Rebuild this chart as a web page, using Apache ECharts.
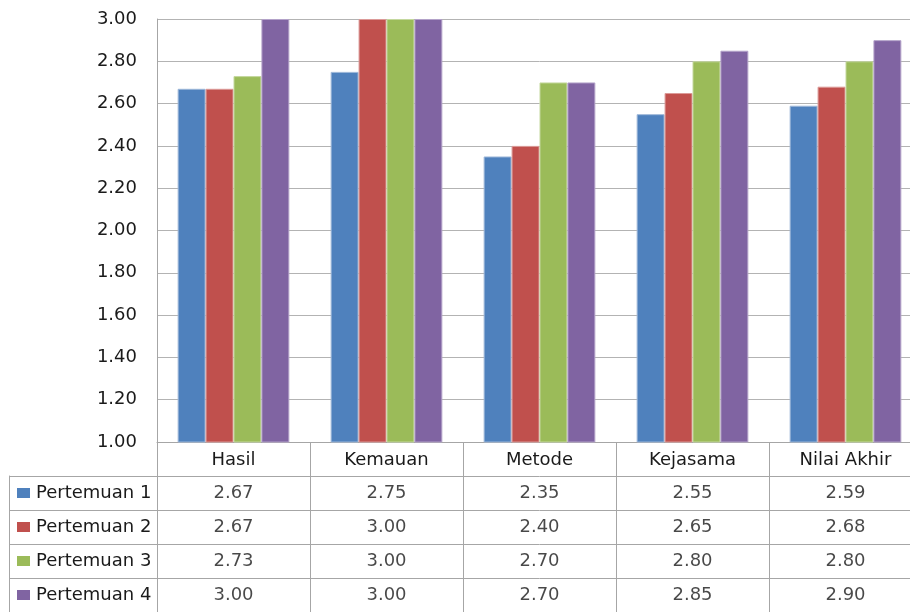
<!DOCTYPE html>
<html>
<head>
<meta charset="utf-8">
<script src="https://cdn.jsdelivr.net/npm/echarts@6/dist/echarts.min.js"></script>
<style>
  html, body { margin: 0; padding: 0; background: #ffffff; overflow: hidden; }
  /* the plot and table continue past the right edge of the window */
  #chart { width: 930px; height: 612px; }
</style>
</head>
<body>
<div id="chart"></div>
<script>
// Categories and the four meeting scores
const categories = ['Hasil', 'Kemauan', 'Metode', 'Kejasama', 'Nilai Akhir'];
const seriesNames = ['Pertemuan 1', 'Pertemuan 2', 'Pertemuan 3', 'Pertemuan 4'];
const pertemuan1 = [2.67, 2.75, 2.35, 2.55, 2.59];
const pertemuan2 = [2.67, 3.00, 2.40, 2.65, 2.68];
const pertemuan3 = [2.73, 3.00, 2.70, 2.80, 2.80];
const pertemuan4 = [3.00, 3.00, 2.70, 2.85, 2.90];
const yMin = 1.0;
const yMax = 3.0;
const yStep = 0.2;

const seriesValues = [pertemuan1, pertemuan2, pertemuan3, pertemuan4];
const colors = ['#4F81BD', '#C0504D', '#9BBB59', '#8064A2'];
const edgeColors = ['#9db7d9', '#dc9a98', '#c4d89e', '#b3a2c9'];
const FONT = 'DejaVu Sans';
const TEXT = '#1a1a1a';
const GRID_LINE = '#b3b3b3';
const TABLE_LINE = '#a6a6a6';

// Table cell texts, positioned by the table's category axes
const cellData = [];
seriesValues.forEach((vals, s) => {
  vals.forEach((v, c) => cellData.push([c, s + 1, v]));
});

const legendRich = { t: { fontFamily: FONT, fontSize: 18, color: TEXT, padding: [0, 0, 0, 6] } };
colors.forEach((col, i) => {
  legendRich['m' + i] = { width: 13, height: 10, backgroundColor: col };
});

const chart = echarts.init(document.getElementById('chart'));
chart.setOption({
  animation: false,
  backgroundColor: '#ffffff',
  grid: [
    { left: 157, top: 19, width: 765, height: 423 },   // bar plot
    { left: 157, top: 442, width: 765, height: 171 },  // data table
    { left: 9, top: 476, width: 148, height: 137 }     // legend column
  ],
  xAxis: [
    {
      gridIndex: 0, type: 'category', data: categories,
      axisLine: { show: true, lineStyle: { color: TABLE_LINE, width: 1 } },
      axisTick: { show: false },
      axisLabel: { fontFamily: FONT, fontSize: 18, color: TEXT, margin: 9 },
      splitLine: { show: false }
    },
    {
      gridIndex: 1, type: 'category', data: categories,
      axisLine: { show: false }, axisTick: { show: false }, axisLabel: { show: false },
      splitLine: { show: true, lineStyle: { color: TABLE_LINE, width: 1 } }
    },
    {
      gridIndex: 2, type: 'category', data: [''],
      axisLine: { show: false }, axisTick: { show: false }, axisLabel: { show: false },
      splitLine: { show: false }
    }
  ],
  yAxis: [
    {
      gridIndex: 0, type: 'value', min: yMin, max: yMax, interval: yStep,
      axisLine: { show: true, lineStyle: { color: TABLE_LINE, width: 1 } },
      axisTick: { show: false },
      axisLabel: {
        fontFamily: FONT, fontSize: 18, color: TEXT, margin: 20,
        formatter: v => v.toFixed(2)
      },
      splitLine: { show: true, lineStyle: { color: GRID_LINE, width: 1 } }
    },
    {
      gridIndex: 1, type: 'category', inverse: true, data: [''].concat(seriesNames),
      axisLine: { show: true, lineStyle: { color: TABLE_LINE, width: 1 } },
      axisTick: { show: false }, axisLabel: { show: false },
      splitLine: { show: true, lineStyle: { color: TABLE_LINE, width: 1 } }
    },
    {
      gridIndex: 2, type: 'category', inverse: true, data: seriesNames,
      axisLine: { show: true, lineStyle: { color: TABLE_LINE, width: 1 } },
      axisTick: { show: false },
      axisLabel: {
        align: 'left', margin: -8,
        formatter: (v, i) => '{m' + i + '|}{t|' + v + '}',
        rich: legendRich
      },
      splitLine: { show: true, lineStyle: { color: TABLE_LINE, width: 1 } }
    }
  ],
  series: seriesNames.map((name, i) => ({
    name: name,
    type: 'bar',
    xAxisIndex: 0,
    yAxisIndex: 0,
    data: seriesValues[i],
    barGap: '0%',
    barCategoryGap: '27%',
    itemStyle: { color: colors[i], borderColor: edgeColors[i], borderWidth: 1 }
  })).concat([{
    name: 'tabel',
    type: 'scatter',
    xAxisIndex: 1,
    yAxisIndex: 1,
    data: cellData,
    symbolSize: 1,
    itemStyle: { color: 'rgba(0,0,0,0)' },
    silent: true,
    label: {
      show: true, position: 'inside',
      fontFamily: FONT, fontSize: 18, color: TEXT,
      formatter: p => p.value[2].toFixed(2)
    }
  }])
});
</script>
</body>
</html>
